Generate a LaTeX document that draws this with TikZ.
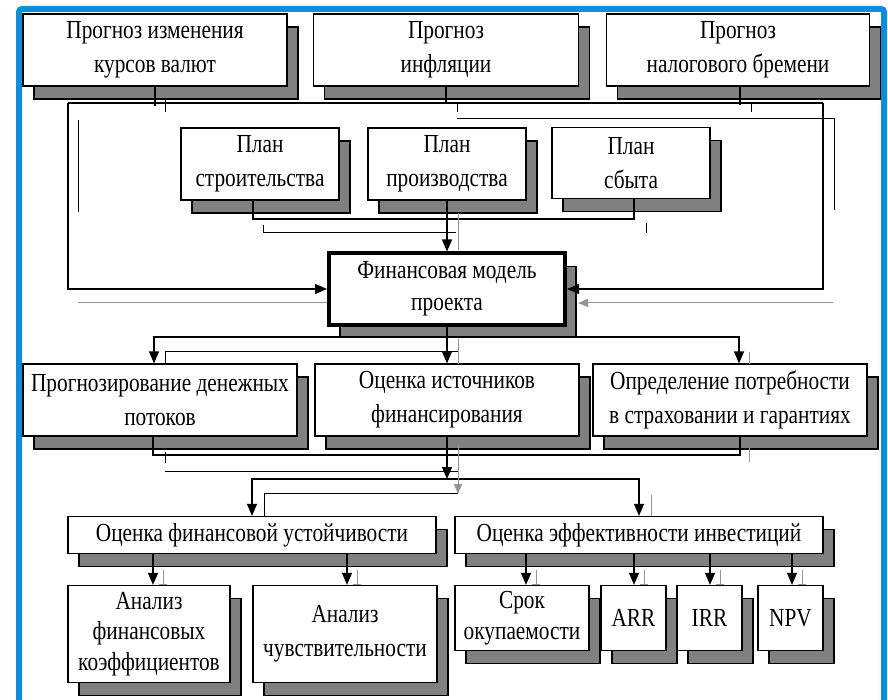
\documentclass[tikz,border=0pt]{standalone}
\usepackage{fontspec}
\setmainfont{Liberation Serif}[FakeStretch=0.82]
\usetikzlibrary{arrows.meta,shadows}
\definecolor{ramka}{RGB}{12,142,222}
\definecolor{tenj}{RGB}{128,128,128}
\begin{document}
\begin{tikzpicture}[x=1pt, y=-1pt,
        blok/.style={draw, line width=1.2pt, fill=white, align=center, inner sep=0pt,
            font=\fontsize{26}{34}\selectfont,
            drop shadow={shadow xshift=11pt, shadow yshift=-13pt, fill=tenj, draw=black, line width=1.2pt, opacity=1}},
        glav_blok/.style={blok, line width=4pt, font=\fontsize{26}{32}\selectfont},
        razmer/.style 2 args={minimum width=#1pt, minimum height=#2pt},
        liniya/.style={line width=1.2pt},
        strelka/.style={liniya, -{Triangle[length=12pt, width=10pt]}},
        sled/.style={line width=1pt},
        sled_seryj/.style={line width=1pt, color=gray!85}
    ]
    \useasboundingbox (0,0) rectangle (888,700);

    % Рамка
    \draw[ramka, line width=6pt, rounded corners=3pt] (19,715) -- (19,9) -- (884,9) -- (884,715);

    % Прогнозы
    \node[blok, razmer={264}{72}] (kurs) at (155,50) {Прогноз изменения\\курсов валют};
    \node[blok, razmer={265}{72}] (infl) at (446,50) {Прогноз\\инфляции};
    \node[blok, razmer={263}{72}] (nalog) at (738,50) {Прогноз\\налогового бремени};

    % Планы
    \node[blok, razmer={158}{72}] (stroi) at (260,164) {План\\строительства};
    \node[blok, razmer={158}{72}] (proizv) at (447,164) {План\\производства};
    \node[blok, razmer={158}{71}] (sbyt) at (631,163) {План\\сбыта};

    % Модель
    \node[glav_blok, razmer={236}{71}] (model) at (447,289) {Финансовая модель\\проекта};

    % Третий ряд
    \node[blok, razmer={274}{72}] (potok) at (160,400) {Прогнозирование денежных\\потоков};
    \node[blok, razmer={264}{72}] (istoch) at (447,400) {Оценка источников\\финансирования};
    \node[blok, razmer={274}{72}] (strah) at (730,400) {Определение потребности\\в страховании и гарантиях};

    % Оценки
    \node[blok, razmer={368}{37}] (ustoich) at (252,535) {Оценка финансовой устойчивости};
    \node[blok, razmer={368}{37}] (effekt) at (639,535) {Оценка эффективности инвестиций};

    % Нижний ряд
    \node[blok, razmer={162}{97}, font=\fontsize{26}{30.5}\selectfont] (koef) at (149,634) {Анализ\\финансовых\\коэффициентов};
    \node[blok, razmer={184}{97}] (chuvst) at (345,634) {Анализ\\чувствительности};
    \node[blok, razmer={134}{65}, font=\fontsize{26}{31}\selectfont] (srok) at (522,618) {Срок\\окупаемости};
    \node[blok, razmer={65}{65}] (arr) at (633.5,618) {ARR};
    \node[blok, razmer={65}{65}] (irr) at (709.5,618) {IRR};
    \node[blok, razmer={65}{65}] (npv) at (790.5,618) {NPV};

    % Шины
    \coordinate (sh_l) at (68,103);
    \coordinate (sh_r) at (823,103);
    \coordinate (sh_plan) at (447,219);
    \coordinate (sh_sr) at (447,337);
    \coordinate (sh_niz) at (447,455);
    \coordinate (sh_ots) at (447,479);

    % Прогнозы -> модель
    \draw[liniya] (kurs.south) -- ([yshift=-3pt]kurs.south |- sh_l);
    \draw[liniya] (infl.south) -- (infl.south |- sh_l);
    \draw[liniya] ([xshift=2pt]nalog.south) -- ([xshift=2pt, yshift=-2pt]nalog.south |- sh_l);
    \draw[liniya] (sh_l) -- (sh_r);
    \draw[strelka] (sh_l) |- (model.west);
    \draw[strelka] (sh_r) |- (model.east);

    % Планы -> модель
    \draw[liniya] ([xshift=-7pt]stroi.south) |- (sh_plan);
    \draw[liniya] ([xshift=3pt]sbyt.south) |- (sh_plan);
    \draw[strelka] (proizv.south) -- (model.north);

    % Модель -> третий ряд
    \draw[strelka] (model.south) -- (istoch.north);
    \draw[strelka] (sh_sr) -| ([xshift=-6pt]potok.north);
    \draw[strelka] (sh_sr) -| ([xshift=9pt]strah.north);

    % Третий ряд -> оценки
    \draw[liniya] ([xshift=-7pt]potok.south) |- (sh_niz) -| ([xshift=10pt]strah.south);
    \draw[strelka] (istoch.south) -- (sh_ots);
    \draw[strelka] (sh_ots) -| (ustoich.north);
    \draw[strelka] (sh_ots) -| (effekt.north);

    % Оценки -> нижний ряд
    \foreach \n/\d in {koef/4, chuvst/2}
        \draw[strelka] ([xshift=\d pt]\n.north |- ustoich.south) -- ([xshift=\d pt]\n.north);
    \foreach \n/\d in {srok/4, arr/0.5, irr/0.5, npv/1.5}
        \draw[strelka] ([xshift=\d pt]\n.north |- effekt.south) -- ([xshift=\d pt]\n.north);

    % Следы линий
    \draw[sled] (165,100) -- (165,112);
    \draw[sled] (457,103) -- (457,112);
    \draw[sled] (751,102) -- (751,112);
    \draw[sled] (457,119) -- (834,119) -- (834,210);
    \draw[sled] (78,120) -- (78,212);
    \draw[sled_seryj] (78,303) -- (model.west |- 0,303);
    \draw[sled_seryj, -{Triangle[length=10pt, width=8pt]}] (833,303) -- (578,303);
    \draw[sled] (263,225) -- (263,233) -- (456,233);
    \draw[sled_seryj] (458,213) -- (458,250);
    \draw[sled] (646,223) -- (646,233);
    \draw[sled] (165,364) -- (165,351) -- (458,351);
    \draw[sled_seryj] (458,339) -- (458,364);
    \draw[sled_seryj] (749,352) -- (749,364);
    \draw[sled_seryj] (749,448) -- (749,462);
    \draw[sled] (165,452) -- (165,463);
    \draw[sled] (165,471) -- (458,471);
    \draw[sled_seryj, -{Triangle[length=10pt, width=8pt]}] (458,445) -- (458,494);
    \draw[sled] (264,516) -- (264,493) -- (458,493);
    \draw[sled_seryj] (651,495) -- (651,516);
    \foreach \x in {163,357,536,644,720,802}
        \draw[sled_seryj] (\x,570) -- (\x,584) (\x-4,584) -- (\x+4,584);
\end{tikzpicture}
\end{document}
